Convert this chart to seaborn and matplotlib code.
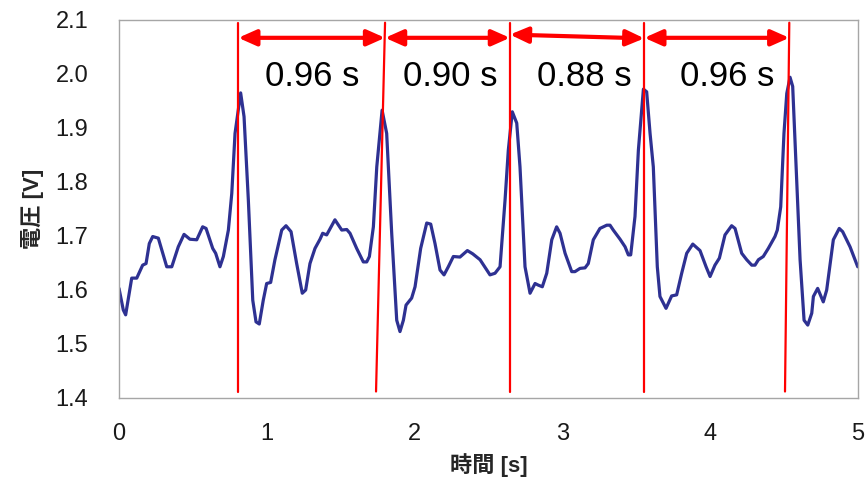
import numpy as np
import pandas as pd
import seaborn as sns
import matplotlib
matplotlib.use("Agg")
import matplotlib.pyplot as plt
from matplotlib.ticker import FormatStrFormatter

# 波形データ (時間 [s], 電圧 [V]) - 図から読み取り
tiempo = [0.000, 0.029, 0.045, 0.086, 0.120, 0.160, 0.183, 0.205, 0.228, 0.266,
          0.323, 0.357, 0.401, 0.440, 0.480, 0.526, 0.566, 0.589, 0.634, 0.654,
          0.683, 0.706, 0.740, 0.763, 0.785, 0.823, 0.846, 0.875, 0.905, 0.927,
          0.949, 0.976, 0.999, 1.026, 1.055, 1.101, 1.130, 1.164, 1.202, 1.240,
          1.263, 1.292, 1.326, 1.360, 1.378, 1.405, 1.461, 1.507, 1.541, 1.563,
          1.608, 1.653, 1.676, 1.694, 1.721, 1.744, 1.780, 1.811, 1.845, 1.879,
          1.901, 1.924, 1.942, 1.980, 2.003, 2.041, 2.082, 2.109, 2.138, 2.172,
          2.199, 2.228, 2.262, 2.307, 2.357, 2.393, 2.443, 2.510, 2.544, 2.578,
          2.612, 2.634, 2.661, 2.691, 2.713, 2.747, 2.781, 2.815, 2.837, 2.864,
          2.894, 2.928, 2.961, 2.984, 3.018, 3.063, 3.085, 3.119, 3.153, 3.175,
          3.209, 3.254, 3.300, 3.322, 3.344, 3.390, 3.424, 3.446, 3.462, 3.491,
          3.514, 3.548, 3.570, 3.593, 3.615, 3.642, 3.660, 3.701, 3.739, 3.773,
          3.807, 3.841, 3.882, 3.931, 3.972, 3.999, 4.032, 4.062, 4.100, 4.145,
          4.168, 4.213, 4.247, 4.281, 4.303, 4.326, 4.359, 4.393, 4.438, 4.454,
          4.477, 4.499, 4.518, 4.540, 4.558, 4.581, 4.608, 4.635, 4.660, 4.687,
          4.698, 4.727, 4.765, 4.788, 4.833, 4.873, 4.896, 4.946, 4.998]
voltaje = [1.603, 1.563, 1.554, 1.622, 1.622, 1.646, 1.649, 1.686, 1.699, 1.696,
           1.643, 1.643, 1.680, 1.703, 1.694, 1.693, 1.717, 1.714, 1.677, 1.668,
           1.643, 1.662, 1.711, 1.779, 1.890, 1.965, 1.921, 1.767, 1.581, 1.541,
           1.537, 1.581, 1.612, 1.614, 1.656, 1.711, 1.719, 1.708, 1.649, 1.594,
           1.600, 1.649, 1.677, 1.694, 1.705, 1.702, 1.730, 1.711, 1.712, 1.705,
           1.677, 1.652, 1.652, 1.662, 1.717, 1.828, 1.933, 1.890, 1.705, 1.544,
           1.523, 1.544, 1.572, 1.585, 1.606, 1.677, 1.724, 1.722, 1.686, 1.637,
           1.628, 1.643, 1.662, 1.661, 1.673, 1.667, 1.656, 1.628, 1.631, 1.643,
           1.767, 1.859, 1.930, 1.909, 1.828, 1.643, 1.594, 1.612, 1.609, 1.606,
           1.631, 1.693, 1.717, 1.705, 1.668, 1.634, 1.634, 1.640, 1.641, 1.649,
           1.693, 1.714, 1.720, 1.720, 1.711, 1.694, 1.680, 1.665, 1.665, 1.736,
           1.859, 1.972, 1.967, 1.890, 1.828, 1.643, 1.588, 1.566, 1.589, 1.591,
           1.631, 1.668, 1.685, 1.673, 1.643, 1.625, 1.646, 1.659, 1.702, 1.719,
           1.714, 1.668, 1.656, 1.646, 1.646, 1.656, 1.662, 1.677, 1.699, 1.711,
           1.754, 1.890, 1.964, 1.994, 1.977, 1.828, 1.656, 1.544, 1.535, 1.557,
           1.588, 1.603, 1.578, 1.600, 1.693, 1.714, 1.708, 1.680, 1.643]

# ピーク位置の縦線 (上端 / 下端の時間)
pico_arriba = [0.807, 1.800, 2.645, 3.554, 4.535]
pico_abajo = [0.807, 1.739, 2.645, 3.554, 4.506]
linea_y = [1.412, 2.095]

# 間隔の矢印と注記
flecha_y_izq = [2.067, 2.067, 2.073, 2.067]
flecha_y_der = [2.067, 2.067, 2.066, 2.067]
intervalos = ["0.96 s", "0.90 s", "0.88 s", "0.96 s"]
texto_x = [1.306, 2.240, 3.150, 4.112]
texto_y = 1.996

xticks = [0, 1, 2, 3, 4, 5]
yticks = [1.4, 1.5, 1.6, 1.7, 1.8, 1.9, 2.0, 2.1]

sns.set_theme(style="white")
plt.rcParams["font.family"] = ["Liberation Sans", "Noto Sans CJK JP", "DejaVu Sans"]

df = pd.DataFrame({"t": tiempo, "v": voltaje})

fig = plt.figure(figsize=(8.68, 4.83), dpi=100)
ax = fig.add_axes([0.1371, 0.176, 0.8514, 0.7826])

sns.lineplot(data=df, x="t", y="v", ax=ax, color="#2E3192", linewidth=2.3,
             estimator=None, sort=False)

# 縦線
for xa, xb in zip(pico_arriba, pico_abajo):
    ax.plot([xb, xa], linea_y, color="#FF0000", linewidth=1.6, zorder=3)

# 矢印
for i in range(len(intervalos)):
    ax.annotate("", xy=(pico_arriba[i + 1], flecha_y_der[i]),
                xytext=(pico_arriba[i], flecha_y_izq[i]),
                arrowprops=dict(arrowstyle="<|-|>,head_length=0.9,head_width=0.4",
                                color="#FF0000", lw=3, shrinkA=0, shrinkB=0),
                zorder=4)
    ax.text(texto_x[i], texto_y, intervalos[i], fontsize=25, ha="center",
            va="center", color="black")

ax.set_xlim(0, 5)
ax.set_ylim(1.4, 2.1)
ax.set_xticks(xticks)
ax.set_yticks(yticks)
ax.yaxis.set_major_formatter(FormatStrFormatter("%.1f"))
ax.tick_params(axis="both", labelsize=17, length=0, colors="#1a1a1a")
ax.tick_params(axis="y", pad=22)
ax.tick_params(axis="x", pad=18)

for s in ax.spines.values():
    s.set_color("#A6A6A6")
    s.set_linewidth(1.0)

ax.set_xlabel("時間 [s]", fontsize=16, fontweight="bold", labelpad=6)
ax.set_ylabel("電圧 [V]", fontsize=16, fontweight="bold", labelpad=8)

fig.savefig("out.png", dpi=100)
